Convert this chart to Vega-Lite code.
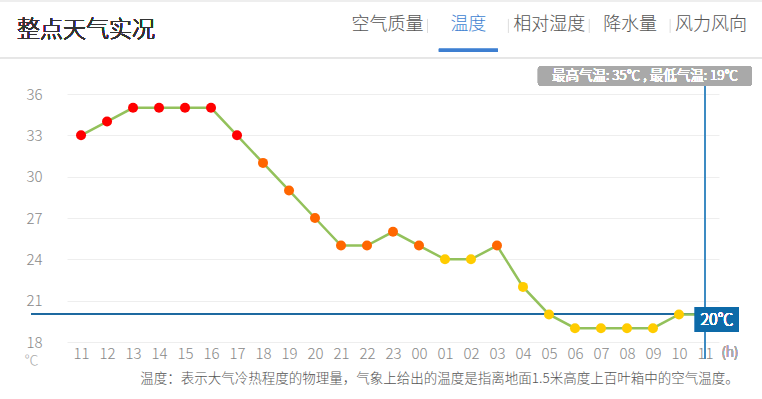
{
  "$schema": "https://vega.github.io/schema/vega-lite/v6.json",
  "width": 652,
  "height": 248,
  "autosize": {"type": "none"},
  "padding": {"left": 67, "top": 94, "right": 43, "bottom": 57},
  "background": "white",
  "config": {
    "view": {"stroke": null},
    "font": "Noto Sans CJK SC"
  },
  "datasets": {
    "temps": [
      {"t": "d1 11", "temp": 33},
      {"t": "d1 12", "temp": 34},
      {"t": "d1 13", "temp": 35},
      {"t": "d1 14", "temp": 35},
      {"t": "d1 15", "temp": 35},
      {"t": "d1 16", "temp": 35},
      {"t": "d1 17", "temp": 33},
      {"t": "d1 18", "temp": 31},
      {"t": "d1 19", "temp": 29},
      {"t": "d1 20", "temp": 27},
      {"t": "d1 21", "temp": 25},
      {"t": "d1 22", "temp": 25},
      {"t": "d1 23", "temp": 26},
      {"t": "d2 00", "temp": 25},
      {"t": "d2 01", "temp": 24},
      {"t": "d2 02", "temp": 24},
      {"t": "d2 03", "temp": 25},
      {"t": "d2 04", "temp": 22},
      {"t": "d2 05", "temp": 20},
      {"t": "d2 06", "temp": 19},
      {"t": "d2 07", "temp": 19},
      {"t": "d2 08", "temp": 19},
      {"t": "d2 09", "temp": 19},
      {"t": "d2 10", "temp": 20},
      {"t": "d2 11", "temp": 20}
    ],
    "tabs": [
      {"tab": "空气质量"},
      {"tab": "温度"},
      {"tab": "相对湿度"},
      {"tab": "降水量"},
      {"tab": "风力风向"}
    ]
  },
  "resolve": {"scale": {"x": "independent"}, "axis": {"x": "independent"}},
  "layer": [
    {
      "data": {"name": "temps"},
      "encoding": {
        "x": {
          "field": "t",
          "type": "ordinal",
          "scale": {"type": "point", "padding": 0.54},
          "axis": {
            "labelExpr": "slice(datum.value, 3)",
            "labelAngle": 0,
            "ticks": false,
            "tickSize": 0,
            "domain": false,
            "grid": false,
            "labelPadding": 4,
            "labelFontSize": 15,
            "labelColor": "#888888",
            "labelFont": "Noto Sans CJK SC",
            "labelFontWeight": 300,
            "title": "温度：表示大气冷热程度的物理量，气象上给出的温度是指离地面1.5米高度上百叶箱中的空气温度。",
            "titleFontSize": 13.5,
            "titleFontWeight": 300,
            "titleColor": "#555555",
            "titleFont": "Noto Sans CJK SC",
            "titleX": 372,
            "titleY": 36,
            "titleAlign": "center",
            "titleBaseline": "middle",
            "titleAnchor": null
          }
        }
      },
      "layer": [
        {
          "mark": {"type": "rule", "color": "#1f6aa0", "strokeWidth": 1.2, "xOffset": -50},
          "encoding": {
            "x": {"datum": "d1 11"},
            "x2": {"datum": "d2 11"},
            "y": {
              "datum": 20,
              "type": "quantitative",
              "scale": {"domain": [18, 36], "nice": false, "zero": false},
              "axis": {
                "values": [18, 21, 24, 27, 30, 33, 36],
                "grid": true,
                "gridColor": "#eeeeee",
                "domain": false,
                "ticks": false,
                "tickSize": 0,
                "labelPadding": 25,
                "labelFontSize": 15,
                "labelColor": "#888888",
                "labelFont": "Noto Sans CJK SC",
                "labelFontWeight": 300,
                "labelBaseline": "middle",
                "title": "℃",
                "titleAngle": 0,
                "titleX": -36,
                "titleY": 266,
                "titleAlign": "center",
                "titleBaseline": "middle",
                "titleFontSize": 14,
                "titleFontWeight": 300,
                "titleColor": "#aaaaaa",
                "titleFont": "Noto Sans CJK SC",
                "titleAnchor": null
              }
            }
          }
        },
        {
          "mark": {"type": "rule", "color": "#e6e6e6", "strokeWidth": 1, "xOffset": -81, "x2Offset": 57},
          "encoding": {
            "x": {"datum": "d1 11"},
            "x2": {"datum": "d2 11"},
            "y": {"datum": 38.61}
          }
        },
        {
          "mark": {"type": "rule", "color": "#eeeeee", "strokeWidth": 2, "xOffset": -81, "x2Offset": 57},
          "encoding": {
            "x": {"datum": "d1 11"},
            "x2": {"datum": "d2 11"},
            "y": {"datum": 42.75}
          }
        },
        {
          "mark": {"type": "text", "text": "整点天气实况", "color": "#333333", "fontSize": 23, "fontWeight": 300, "dx": -64, "align": "left", "baseline": "middle", "font": "Noto Sans CJK SC"},
          "encoding": {
            "x": {"datum": "d1 11"},
            "y": {"datum": 40.64}
          }
        },
        {
          "mark": {"type": "line", "color": "#93c15b", "strokeWidth": 2.5},
          "encoding": {
            "y": {"field": "temp", "type": "quantitative"}
          }
        },
        {
          "mark": {"type": "circle", "size": 100, "opacity": 1},
          "encoding": {
            "y": {"field": "temp", "type": "quantitative"},
            "color": {
              "field": "temp",
              "type": "quantitative",
              "scale": {"type": "threshold", "domain": [25, 32], "range": ["#ffcc00", "#ff6600", "#ff0000"]},
              "legend": null
            }
          }
        },
        {
          "mark": {"type": "rule", "color": "#3f8bc2", "strokeWidth": 1},
          "encoding": {
            "x": {"datum": "d2 11"},
            "y": {"datum": 36.6},
            "y2": {"datum": 16.77}
          }
        },
        {
          "mark": {"type": "rect", "color": "#0d6aa8", "xOffset": -10, "x2Offset": 34},
          "encoding": {
            "x": {"datum": "d2 11"},
            "x2": {"datum": "d2 11"},
            "y": {"datum": 18.73},
            "y2": {"datum": 20.54}
          }
        },
        {
          "mark": {"type": "text", "text": "20℃", "color": "white", "fontSize": 16, "fontWeight": 300, "dx": 12, "align": "center", "baseline": "middle", "font": "Noto Sans CJK SC"},
          "encoding": {
            "x": {"datum": "d2 11"},
            "y": {"datum": 19.63}
          }
        },
        {
          "mark": {"type": "rect", "color": "#a9a9a9", "cornerRadius": 3, "xOffset": -167, "x2Offset": 47},
          "encoding": {
            "x": {"datum": "d2 11"},
            "x2": {"datum": "d2 11"},
            "y": {"datum": 36.6},
            "y2": {"datum": 38.03}
          }
        },
        {
          "mark": {"type": "text", "text": "最高气温: 35℃ , 最低气温: 19℃", "color": "white", "fontSize": 13.5, "fontWeight": 300, "dx": -60, "align": "center", "baseline": "middle", "font": "Noto Sans CJK SC"},
          "encoding": {
            "x": {"datum": "d2 11"},
            "y": {"datum": 37.32}
          }
        },
        {
          "mark": {"type": "text", "text": "(h)", "color": "#aaaaaa", "fontSize": 14, "fontWeight": 300, "dx": 25, "align": "center", "baseline": "middle", "font": "Noto Sans CJK SC"},
          "encoding": {
            "x": {"datum": "d2 11"},
            "y": {"datum": 17.2}
          }
        }
      ]
    },
    {
      "data": {"name": "tabs"},
      "encoding": {
        "x": {
          "field": "tab",
          "type": "nominal",
          "sort": null,
          "scale": {"type": "point", "range": [320.5, 644], "padding": 0},
          "axis": null
        }
      },
      "layer": [
        {
          "mark": {"type": "text", "fontSize": 18, "fontWeight": 300, "align": "center", "baseline": "middle", "font": "Noto Sans CJK SC"},
          "encoding": {
            "y": {"datum": 40.98},
            "text": {"field": "tab"},
            "color": {
              "condition": {"test": "datum.tab === '温度'", "value": "#3e7fd1"},
              "value": "#555555"
            }
          }
        },
        {
          "transform": [{"filter": "datum.tab !== '风力风向'"}],
          "mark": {"type": "rule", "color": "#dddddd", "strokeWidth": 1, "xOffset": 40},
          "encoding": {
            "y": {"datum": 41.45},
            "y2": {"datum": 40.43}
          }
        },
        {
          "mark": {"type": "rule", "color": "#3e7fd1", "strokeWidth": 3, "xOffset": -29.5, "x2Offset": 29.5},
          "encoding": {
            "x": {"datum": "温度"},
            "x2": {"datum": "温度"},
            "y": {"datum": 39.18}
          }
        }
      ]
    }
  ]
}
